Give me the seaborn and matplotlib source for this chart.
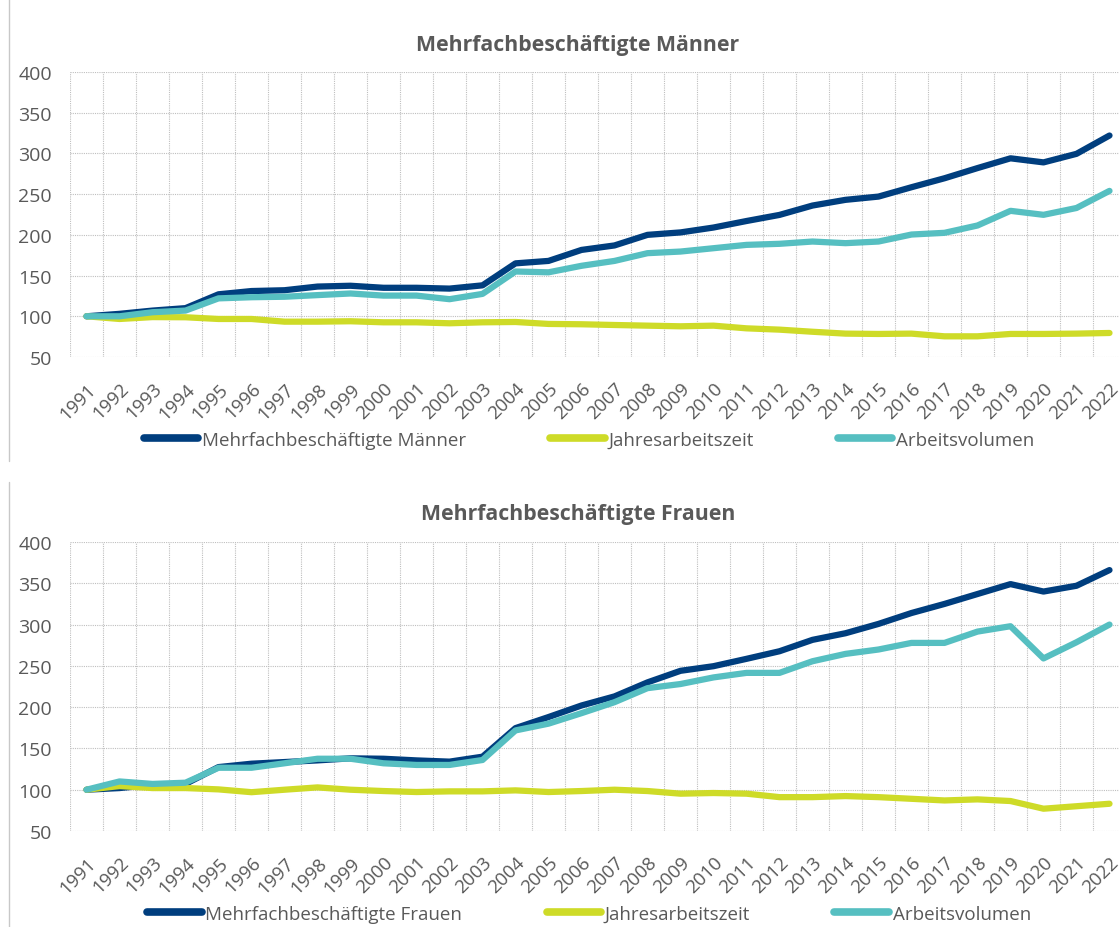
import numpy as np
import pandas as pd
import seaborn as sns
import matplotlib.pyplot as plt
from matplotlib.lines import Line2D

# Index 1991 = 100
jahre = [str(j) for j in range(1991, 2023)]

maenner = [100, 103, 107, 110, 127, 131, 132, 136.5, 137.5, 135, 135, 134, 138, 165,
           168, 181.5, 187, 200, 203, 209, 217, 224.5, 236, 243, 247, 258.5, 269.5,
           282, 294, 289, 299.5, 322]
m_jahresarbeitszeit = [100, 96.7, 99, 98.8, 96.7, 96.7, 93.4, 93.4, 93.9, 92.6, 92.6,
                       91.4, 92.6, 93, 90.6, 90.2, 89.3, 88.5, 87.7, 88.5, 85.2, 83.6,
                       81, 78.7, 78.3, 78.7, 75.4, 75.4, 78.3, 78.3, 78.7, 79.5]
m_arbeitsvolumen = [100, 100, 105, 107, 122, 123.4, 124, 126, 128, 125.4, 125.4, 121,
                    127.5, 155, 154, 162, 168, 177.5, 179.5, 183.6, 187.7, 189, 191.8,
                    189.8, 191.8, 200.4, 202.5, 211.5, 229.5, 224.6, 233, 254]

frauen = [100, 102, 106, 107, 127.4, 131.5, 133.5, 135.5, 138, 137.5, 135.5, 134, 140,
          174.6, 188, 202, 213, 230, 244, 249.6, 258.5, 267.7, 281.5, 289.5, 300.8, 314,
          325, 337, 349, 340, 347, 366]
f_jahresarbeitszeit = [100, 104.4, 102, 102, 100.4, 97, 100, 102.8, 100, 98.4, 97.2, 98,
                       98, 99.2, 97.2, 98.4, 100, 98.4, 95.2, 96, 95.2, 91, 91, 92.3, 91,
                       89, 87, 88.3, 86.3, 77, 80, 83]
f_arbeitsvolumen = [100, 110, 107, 108.5, 126.6, 126.6, 132, 137.5, 137.5, 132, 130, 130,
                    136, 171.8, 180, 192.7, 206, 223, 228, 236, 241.5, 241.5, 255.6,
                    264.5, 269.8, 277.8, 277.8, 291.5, 298, 259, 278.6, 300]

farben = ["#003E7E", "#CEDB28", "#56BFC1"]
grau = "#595959"

sns.set_style("white")
plt.rcParams['font.family'] = ['Open Sans', 'DejaVu Sans']

W, H = 1119, 928
fig = plt.figure(figsize=(W / 100, H / 100), dpi=100)


def panel(top_px, bottom_px, titel, titel_y, namen, werte, legend_y):
    ax = fig.add_axes([70 / W, 1 - bottom_px / H, 1056 / W, (bottom_px - top_px) / H])
    df = pd.DataFrame({
        "pos": list(range(len(jahre))) * 3,
        "wert": werte[0] + werte[1] + werte[2],
        "reihe": [namen[0]] * len(jahre) + [namen[1]] * len(jahre) + [namen[2]] * len(jahre),
    })
    sns.lineplot(data=df, x="pos", y="wert", hue="reihe", hue_order=namen,
                 palette=dict(zip(namen, farben)), linewidth=4.5, sort=False,
                 legend=False, ax=ax, solid_joinstyle="round", solid_capstyle="round")
    ax.set_xlim(-0.5, len(jahre) - 0.5)
    ax.set_ylim(50, 400)
    ax.set_yticks(range(50, 401, 50))
    ax.set_xticks(range(len(jahre)))
    ax.set_xticklabels(jahre, rotation=45, ha="right", va="top", rotation_mode="anchor")
    ax.set_xticks(np.arange(-0.5, len(jahre), 1), minor=True)
    ax.set_xlabel("")
    ax.set_ylabel("")
    for s in ax.spines.values():
        s.set_visible(False)
    ax.grid(False)
    ax.grid(axis="y", which="major", color="#BFBFBF", linestyle=(0, (1, 1)), linewidth=0.8)
    ax.grid(axis="x", which="minor", color="#BFBFBF", linestyle=(0, (1, 1)), linewidth=0.8)
    ax.set_axisbelow(True)
    ax.tick_params(axis="both", which="both", length=0, colors=grau)
    ax.tick_params(axis="y", labelsize=14, pad=13)
    ax.tick_params(axis="x", labelsize=13.5, pad=16)

    fig.text(578 / W, 1 - titel_y / H, titel, ha="center", va="center",
             fontsize=15.3, fontweight="bold", color=grau)

    handles = [Line2D([0], [0], color=f, linewidth=5.5, solid_capstyle="round") for f in farben]
    fig.legend(handles, namen, loc="center", bbox_to_anchor=(589 / W, 1 - legend_y / H),
               ncol=3, frameon=False, fontsize=13.5, labelcolor=grau,
               handlelength=2.9, handletextpad=0.2, columnspacing=4.5)
    return ax


panel(73, 358, "Mehrfachbeschäftigte Männer", 46,
      ["Mehrfachbeschäftigte Männer", "Jahresarbeitszeit", "Arbeitsvolumen"],
      [maenner, m_jahresarbeitszeit, m_arbeitsvolumen], 441)
panel(543, 832, "Mehrfachbeschäftigte Frauen", 515,
      ["Mehrfachbeschäftigte Frauen", "Jahresarbeitszeit", "Arbeitsvolumen"],
      [frauen, f_jahresarbeitszeit, f_arbeitsvolumen], 915)

# linke Rahmenlinien der beiden Diagramme
fig.add_artist(Line2D([9 / W, 9 / W], [1, 1 - 462 / H], color="#C8C8C8", linewidth=1))
fig.add_artist(Line2D([9 / W, 9 / W], [1 - 483 / H, 0], color="#C8C8C8", linewidth=1))

fig.savefig("out.png", dpi=100)
